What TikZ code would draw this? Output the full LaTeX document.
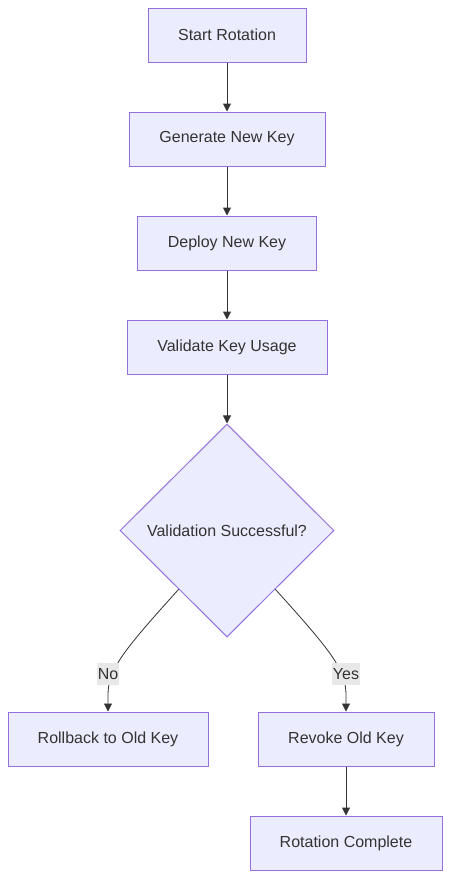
\documentclass[tikz,border=0pt]{standalone}
\usepackage{fontspec}
\setmainfont{Liberation Sans}
\usetikzlibrary{shapes.geometric,arrows.meta,calc}
\definecolor{nodefill}{HTML}{ECECFF}
\definecolor{nodestroke}{HTML}{9370DB}
\definecolor{txt}{HTML}{333333}
\definecolor{lblfill}{HTML}{E8E8E8}
\begin{document}
\begin{tikzpicture}[x=1pt,y=-1pt,
  box/.style={draw=nodestroke,fill=nodefill,line width=1pt,text=txt,font=\fontsize{16pt}{19pt}\selectfont,inner sep=0pt,minimum height=54pt},
  dec/.style={diamond,draw=nodestroke,fill=nodefill,line width=1pt,text=txt,font=\fontsize{16pt}{19pt}\selectfont,inner sep=0pt,minimum width=214pt,minimum height=213pt},
  lbl/.style={fill=lblfill,text=txt,font=\fontsize{16pt}{19pt}\selectfont,inner sep=1pt,minimum height=22pt},
  conn/.style={draw=txt,line width=1pt,-{Triangle[length=8pt,width=8pt]}},
  curve/.style={draw=txt,line width=0.8pt}]
\useasboundingbox (0,0) rectangle (451,878);
\node[box,minimum width=158pt] (start) at (227,35) {Start Rotation};
\node[box,minimum width=196pt] (gen) at (227,139) {Generate New Key};
\node[box,minimum width=179pt] (dep) at (227,243) {Deploy New Key};
\node[box,minimum width=200pt] (val) at (227,347) {Validate Key Usage};
\node[dec] (dec) at (227,530.5) {Validation Successful?};
\node[box,minimum width=200pt] (rb) at (108,739) {Rollback to Old Key};
\node[box,minimum width=176pt] (rev) at (346,739) {Revoke Old Key};
\node[box,minimum width=192pt] (done) at (346,843) {Rotation Complete};
\draw[conn] (start) -- (gen);
\draw[conn] (gen) -- (dep);
\draw[conn] (dep) -- (val);
\draw[conn] (val) -- (dec);
\draw[conn] (rev) -- (done);
\coordinate (dl) at ($(dec.west)!0.55!(dec.south)$);
\coordinate (dr) at ($(dec.east)!0.55!(dec.south)$);
\draw[curve,draw=txt,line width=0.8pt,-{Triangle[length=8pt,width=8pt]}] (dl) .. controls (122,652) and (108,670) .. (108,695) -- (rb.north);
\draw[curve,draw=txt,line width=0.8pt,-{Triangle[length=8pt,width=8pt]}] (dr) .. controls (332,652) and (346,670) .. (346,695) -- (rev.north);
\node[lbl] (no) at (108,674) {No};
\node[lbl] (yes) at (346,674) {Yes};
\end{tikzpicture}
\end{document}
